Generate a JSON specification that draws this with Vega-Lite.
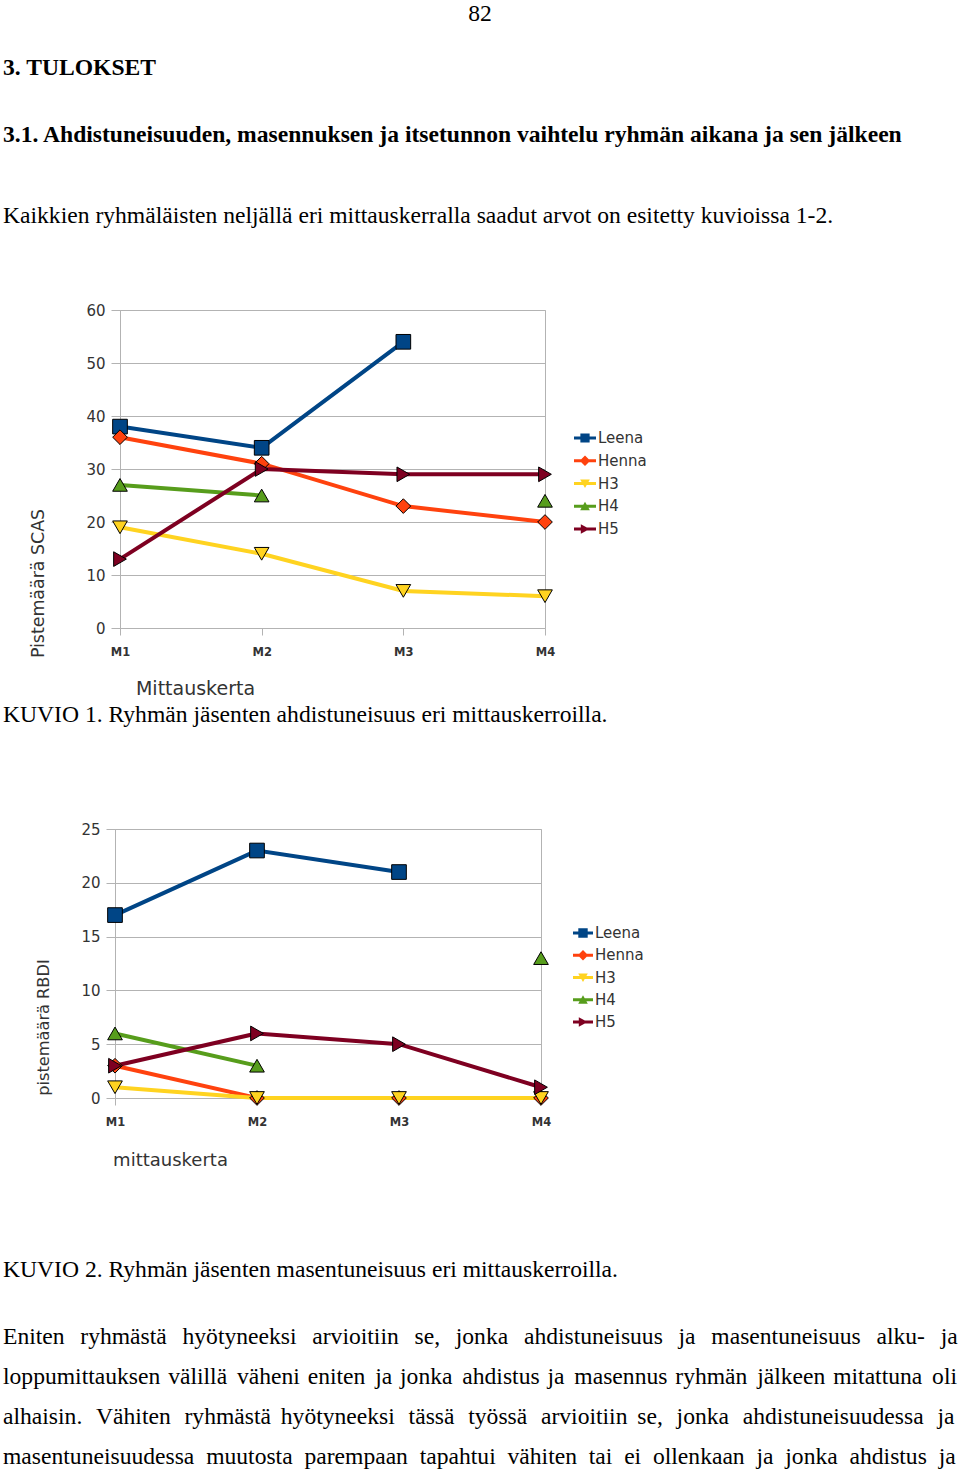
{
  "$schema": "https://vega.github.io/schema/vega-lite/v6.json",
  "background": "white",
  "padding": {"left": 2, "top": 2, "right": 0, "bottom": 0},
  "spacing": 3,
  "config": {
    "view": {"stroke": "#b3b3b3", "strokeWidth": 1},
    "font": "DejaVu Sans",
    "title": {"font": "Liberation Serif", "fontSize": 23.6, "fontWeight": "normal", "color": "#000000", "anchor": "start", "frame": "group", "subtitleFont": "Liberation Serif", "subtitleFontSize": 23.6, "subtitleColor": "#000000"},
    "axis": {"gridColor": "#b3b3b3", "domainColor": "#b3b3b3", "tickColor": "#b3b3b3", "labelColor": "#333333", "titleColor": "#333333", "titleFont": "DejaVu Sans", "labelFont": "DejaVu Sans", "titleFontWeight": "normal"},
    "legend": {"labelFont": "DejaVu Sans", "labelColor": "#333333"}
  },
  "datasets": {
    "scas": [
      {"mittauskerta": "M1", "henkilo": "Leena", "pisteet": 38},
      {"mittauskerta": "M2", "henkilo": "Leena", "pisteet": 34},
      {"mittauskerta": "M3", "henkilo": "Leena", "pisteet": 54},
      {"mittauskerta": "M4", "henkilo": "Leena", "pisteet": null},
      {"mittauskerta": "M1", "henkilo": "Henna", "pisteet": 36},
      {"mittauskerta": "M2", "henkilo": "Henna", "pisteet": 31},
      {"mittauskerta": "M3", "henkilo": "Henna", "pisteet": 23},
      {"mittauskerta": "M4", "henkilo": "Henna", "pisteet": 20},
      {"mittauskerta": "M1", "henkilo": "H3", "pisteet": 19},
      {"mittauskerta": "M2", "henkilo": "H3", "pisteet": 14},
      {"mittauskerta": "M3", "henkilo": "H3", "pisteet": 7},
      {"mittauskerta": "M4", "henkilo": "H3", "pisteet": 6},
      {"mittauskerta": "M1", "henkilo": "H4", "pisteet": 27},
      {"mittauskerta": "M2", "henkilo": "H4", "pisteet": 25},
      {"mittauskerta": "M3", "henkilo": "H4", "pisteet": null},
      {"mittauskerta": "M4", "henkilo": "H4", "pisteet": 24},
      {"mittauskerta": "M1", "henkilo": "H5", "pisteet": 13},
      {"mittauskerta": "M2", "henkilo": "H5", "pisteet": 30},
      {"mittauskerta": "M3", "henkilo": "H5", "pisteet": 29},
      {"mittauskerta": "M4", "henkilo": "H5", "pisteet": 29}
    ],
    "rbdi": [
      {"mittauskerta": "M1", "henkilo": "Leena", "pisteet": 17},
      {"mittauskerta": "M2", "henkilo": "Leena", "pisteet": 23},
      {"mittauskerta": "M3", "henkilo": "Leena", "pisteet": 21},
      {"mittauskerta": "M4", "henkilo": "Leena", "pisteet": null},
      {"mittauskerta": "M1", "henkilo": "Henna", "pisteet": 3},
      {"mittauskerta": "M2", "henkilo": "Henna", "pisteet": 0},
      {"mittauskerta": "M3", "henkilo": "Henna", "pisteet": 0},
      {"mittauskerta": "M4", "henkilo": "Henna", "pisteet": 0},
      {"mittauskerta": "M1", "henkilo": "H3", "pisteet": 1},
      {"mittauskerta": "M2", "henkilo": "H3", "pisteet": 0},
      {"mittauskerta": "M3", "henkilo": "H3", "pisteet": 0},
      {"mittauskerta": "M4", "henkilo": "H3", "pisteet": 0},
      {"mittauskerta": "M1", "henkilo": "H4", "pisteet": 6},
      {"mittauskerta": "M2", "henkilo": "H4", "pisteet": 3},
      {"mittauskerta": "M3", "henkilo": "H4", "pisteet": null},
      {"mittauskerta": "M4", "henkilo": "H4", "pisteet": 13},
      {"mittauskerta": "M1", "henkilo": "H5", "pisteet": 3},
      {"mittauskerta": "M2", "henkilo": "H5", "pisteet": 6},
      {"mittauskerta": "M3", "henkilo": "H5", "pisteet": 5},
      {"mittauskerta": "M4", "henkilo": "H5", "pisteet": 1}
    ]
  },
  "title": {"text": "82", "anchor": "middle", "frame": "bounds", "offset": 30},
  "vconcat": [
    {
      "title": {"text": "3. TULOKSET", "fontWeight": "bold", "dx": -112, "offset": 43},
      "bounds": "flush",
      "spacing": 4,
      "hconcat": [
        {
          "width": 1,
          "height": 1,
          "view": {"stroke": null},
          "data": {"values": []},
          "mark": "point",
          "encoding": {}
        },
        {
          "title": {
            "text": "3.1. Ahdistuneisuuden, masennuksen ja itsetunnon vaihtelu ryhmän aikana ja sen jälkeen",
            "fontWeight": "bold",
            "subtitle": "Kaikkien ryhmäläisten neljällä eri mittauskerralla saadut arvot on esitetty kuvioissa 1-2.",
            "subtitlePadding": 58,
            "dx": -117,
            "offset": 75
          },
          "width": 425,
          "height": 318,
          "data": {"name": "scas"},
          "encoding": {
            "x": {
              "field": "mittauskerta", "type": "ordinal",
              "scale": {"type": "point", "padding": 0, "domain": ["M1", "M2", "M3", "M4"]},
              "axis": {"title": "Mittauskerta", "labelAngle": 0, "grid": false, "domain": false, "tickSize": 7, "labelPadding": 11, "labelFontSize": 11.5, "labelFontWeight": "bold", "titleFontSize": 19, "titleX": 75, "titleY": 66, "titleAlign": "center", "titleBaseline": "alphabetic"}
            },
            "y": {
              "field": "pisteet", "type": "quantitative",
              "scale": {"domain": [0, 60], "nice": false, "zero": true},
              "axis": {"title": "Pistemäärä SCAS", "values": [0, 10, 20, 30, 40, 50, 60], "grid": true, "tickSize": 9, "labelPadding": 6, "labelFontSize": 15, "titleFontSize": 17.4, "titleX": -82, "titleY": 273, "titleAlign": "center", "titleBaseline": "middle", "titleAngle": -90}
            }
          },
          "layer": [
            {
              "mark": {"type": "line", "strokeWidth": 4, "invalid": "break-paths-show-domains"},
              "encoding": {
                "color": {"field": "henkilo", "type": "nominal", "scale": {"domain": ["Leena", "Henna", "H3", "H4", "H5"], "range": ["#004586", "#ff420e", "#ffd320", "#579d1c", "#7e0021"]}, "legend": null}
              }
            },
            {
              "mark": {"type": "point", "filled": true, "opacity": 1, "size": 215, "stroke": "#000000", "strokeWidth": 1},
              "encoding": {
                "color": {"field": "henkilo", "type": "nominal", "scale": {"domain": ["Leena", "Henna", "H3", "H4", "H5"], "range": ["#004586", "#ff420e", "#ffd320", "#579d1c", "#7e0021"]}, "legend": null},
                "shape": {"field": "henkilo", "type": "nominal", "scale": {"domain": ["Leena", "Henna", "H3", "H4", "H5"], "range": ["square", "diamond", "triangle-down", "triangle-up", "triangle-right"]}, "legend": null}
              }
            },
            {
              "transform": [{"filter": "false"}],
              "mark": {"type": "point", "filled": true, "opacity": 1},
              "encoding": {
                "color": {"field": "henkilo", "type": "nominal", "scale": {"domain": ["Leena", "Henna", "H3", "H4", "H5"], "range": ["#004586", "#ff420e", "#ffd320", "#579d1c", "#7e0021"]}, "legend": {"orient": "none", "legendX": 453, "legendY": 116, "title": null, "padding": 0, "symbolSize": 484, "rowPadding": 2.75, "labelOffset": 1, "labelFontSize": 15, "encode": {"symbols": {"update": {"stroke": {"value": "#1a1a1a"}, "strokeWidth": {"value": 0.6}}}}}},
                "shape": {"field": "henkilo", "type": "nominal", "scale": {"domain": ["Leena", "Henna", "H3", "H4", "H5"], "range": ["M-1,-0.13H1V0.13H-1Z M-0.42,-0.42H0.42V0.42H-0.42Z", "M-1,-0.13H1V0.13H-1Z M0,-0.48L0.48,0L0,0.48L-0.48,0Z", "M-1,-0.13H1V0.13H-1Z M-0.44,-0.36L0.44,-0.36L0,0.42Z", "M-1,-0.13H1V0.13H-1Z M0,-0.42L0.44,0.36L-0.44,0.36Z", "M-1,-0.13H1V0.13H-1Z M-0.38,-0.44L0.42,0L-0.38,0.44Z"]}, "legend": {"orient": "none", "legendX": 453, "legendY": 116, "title": null, "padding": 0, "symbolSize": 484, "rowPadding": 2.75, "labelOffset": 1, "labelFontSize": 15, "encode": {"symbols": {"update": {"stroke": {"value": "#1a1a1a"}, "strokeWidth": {"value": 0.6}}}}}}
              }
            }
          ],
          "resolve": {"scale": {"shape": "independent", "color": "independent"}}
        }
      ]
    },
    {
      "title": {
        "text": "KUVIO 2. Ryhmän jäsenten masentuneisuus eri mittauskerroilla.",
        "orient": "bottom",
        "subtitle": [
          "Eniten\u2002\u2006ryhmästä\u2002\u2006hyötyneeksi\u2002\u2006arvioitiin\u2002\u2006se,\u2002\u2006jonka\u2002\u2006ahdistuneisuus\u2002\u2006ja\u2002\u2006masentuneisuus\u2002\u2006alku-\u2002\u2006ja",
          "loppumittauksen \u200Avälillä \u2006väheni \u200Aeniten \u2006ja \u200Ajonka \u2006ahdistus \u200Aja \u2006masennus \u200Aryhmän \u2006jälkeen \u200Amitattuna \u2006oli",
          "alhaisin. \u2004Vähiten \u2004ryhmästä \u2006hyötyneeksi \u2004tässä \u2004työssä \u2004arvioitiin \u2006se, \u2004jonka \u2004ahdistuneisuudessa \u2004ja",
          "masentuneisuudessa\u2002muutosta\u2002parempaan\u2002tapahtui\u2002vähiten\u2002tai\u2002ei\u2002ollenkaan\u2002ja\u2002jonka\u2002ahdistus\u2002ja"
        ],
        "subtitleLineHeight": 40,
        "subtitlePadding": 44,
        "dx": -112,
        "offset": 88
      },
      "vconcat": [
        {
          "title": {
            "text": "KUVIO 1. Ryhmän jäsenten ahdistuneisuus eri mittauskerroilla.",
            "dx": -112,
            "offset": 95
          },
          "width": 426,
          "height": 269,
          "data": {"name": "rbdi"},
          "encoding": {
            "x": {
              "field": "mittauskerta", "type": "ordinal",
              "scale": {"type": "point", "padding": 0, "domain": ["M1", "M2", "M3", "M4"]},
              "axis": {"title": "mittauskerta", "labelAngle": 0, "grid": false, "domain": false, "tickSize": 7, "labelPadding": 11, "labelFontSize": 11.5, "labelFontWeight": "bold", "titleFontSize": 18, "titleX": 55, "titleY": 67, "titleAlign": "center", "titleBaseline": "alphabetic"}
            },
            "y": {
              "field": "pisteet", "type": "quantitative",
              "scale": {"domain": [0, 25], "nice": false, "zero": true},
              "axis": {"title": "pistemäärä RBDI", "values": [0, 5, 10, 15, 20, 25], "grid": true, "tickSize": 9, "labelPadding": 6, "labelFontSize": 15, "titleFontSize": 16.2, "titleX": -72, "titleY": 198, "titleAlign": "center", "titleBaseline": "middle", "titleAngle": -90}
            }
          },
          "layer": [
            {
              "mark": {"type": "line", "strokeWidth": 4, "invalid": "break-paths-show-domains"},
              "encoding": {
                "color": {"field": "henkilo", "type": "nominal", "scale": {"domain": ["Leena", "Henna", "H3", "H4", "H5"], "range": ["#004586", "#ff420e", "#ffd320", "#579d1c", "#7e0021"]}, "legend": null}
              }
            },
            {
              "mark": {"type": "point", "filled": true, "opacity": 1, "size": 215, "stroke": "#000000", "strokeWidth": 1},
              "encoding": {
                "color": {"field": "henkilo", "type": "nominal", "scale": {"domain": ["Leena", "Henna", "H3", "H4", "H5"], "range": ["#004586", "#ff420e", "#ffd320", "#579d1c", "#7e0021"]}, "legend": null},
                "shape": {"field": "henkilo", "type": "nominal", "scale": {"domain": ["Leena", "Henna", "H3", "H4", "H5"], "range": ["square", "diamond", "triangle-down", "triangle-up", "triangle-right"]}, "legend": null}
              }
            },
            {
              "transform": [{"filter": "false"}],
              "mark": {"type": "point", "filled": true, "opacity": 1},
              "encoding": {
                "color": {"field": "henkilo", "type": "nominal", "scale": {"domain": ["Leena", "Henna", "H3", "H4", "H5"], "range": ["#004586", "#ff420e", "#ffd320", "#579d1c", "#7e0021"]}, "legend": {"orient": "none", "legendX": 457, "legendY": 93, "title": null, "padding": 0, "symbolSize": 400, "rowPadding": 3.25, "labelOffset": 1, "labelFontSize": 15, "encode": {"symbols": {"update": {"stroke": {"value": "#1a1a1a"}, "strokeWidth": {"value": 0.6}}}}}},
                "shape": {"field": "henkilo", "type": "nominal", "scale": {"domain": ["Leena", "Henna", "H3", "H4", "H5"], "range": ["M-1,-0.15H1V0.15H-1Z M-0.47,-0.47H0.47V0.47H-0.47Z", "M-1,-0.15H1V0.15H-1Z M0,-0.52L0.52,0L0,0.52L-0.52,0Z", "M-1,-0.15H1V0.15H-1Z M-0.48,-0.4L0.48,-0.4L0,0.46Z", "M-1,-0.15H1V0.15H-1Z M0,-0.46L0.48,0.4L-0.48,0.4Z", "M-1,-0.15H1V0.15H-1Z M-0.42,-0.48L0.46,0L-0.42,0.48Z"]}, "legend": {"orient": "none", "legendX": 457, "legendY": 93, "title": null, "padding": 0, "symbolSize": 400, "rowPadding": 3.25, "labelOffset": 1, "labelFontSize": 15, "encode": {"symbols": {"update": {"stroke": {"value": "#1a1a1a"}, "strokeWidth": {"value": 0.6}}}}}}
              }
            }
          ],
          "resolve": {"scale": {"shape": "independent", "color": "independent"}}
        }
      ]
    }
  ]
}
